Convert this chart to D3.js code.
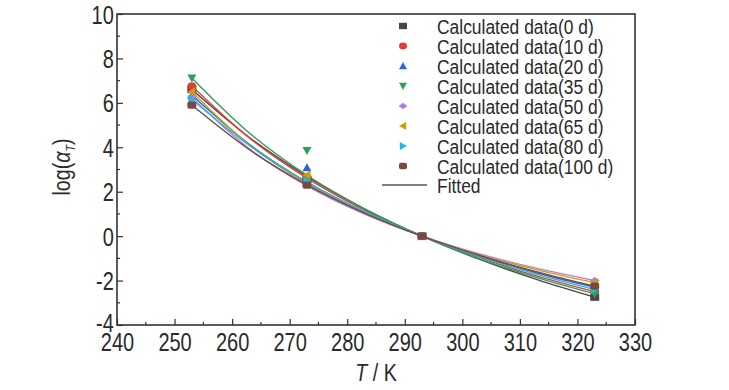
<!DOCTYPE html>
<html>
<head>
<meta charset="utf-8">
<script src="https://cdn.jsdelivr.net/npm/d3@7"></script>
<style>
  body { margin: 0; background: #fff; }
  svg { display: block; }
  text { font-family: "Liberation Sans", Arial, sans-serif; fill: #2a2a2a; }
</style>
</head>
<body>
<div id="chart"></div>
<script>
// Temperatures of the calculated points (K).
const temps = [253, 273, 293, 323];
// Temperatures where the fitted curves were read.
const fitTemps = [253, 263, 273, 283, 293, 303, 313, 323];

const seriesNames = ["0 d", "10 d", "20 d", "35 d", "50 d", "65 d", "80 d", "100 d"];
const seriesColors = ["#474747", "#e63a3a", "#2f63d8", "#2e9e5b", "#b07be6", "#cf9f00", "#22b9d6", "#7a4742"];
const seriesSymbols = ["square", "circle", "up", "down", "diamond", "left", "right", "hex"];

// Calculated log(aT) at each temperature.
const calc0 = [6.60, 2.55, 0, -2.75];
const calc10 = [6.76, 2.65, 0, -2.50];
const calc20 = [6.35, 3.08, 0, -2.30];
const calc35 = [7.12, 3.85, 0, -2.60];
const calc50 = [6.25, 2.40, 0, -2.00];
const calc65 = [6.50, 2.75, 0, -2.10];
const calc80 = [6.15, 2.50, 0, -2.40];
const calc100 = [5.90, 2.30, 0, -2.25];

// Fitted curves, read at fitTemps.
const fit0 = [6.60, 4.44, 2.69, 1.23, 0, -1.05, -1.96, -2.75];
const fit10 = [6.76, 4.42, 2.61, 1.17, 0, -0.97, -1.80, -2.50];
const fit20 = [6.35, 4.13, 2.43, 1.09, 0, -0.90, -1.66, -2.30];
const fit35 = [7.12, 4.64, 2.74, 1.23, 0, -1.02, -1.87, -2.60];
const fit50 = [6.25, 3.93, 2.26, 0.99, 0, -0.80, -1.45, -2.00];
const fit65 = [6.50, 4.10, 2.36, 1.04, 0, -0.84, -1.52, -2.10];
const fit80 = [6.15, 4.08, 2.43, 1.10, 0, -0.93, -1.72, -2.40];
const fit100 = [5.90, 3.89, 2.31, 1.04, 0, -0.87, -1.61, -2.25];

const calcAll = [calc0, calc10, calc20, calc35, calc50, calc65, calc80, calc100];
const fitAll = [fit0, fit10, fit20, fit35, fit50, fit65, fit80, fit100];

const xTicks = [240, 250, 260, 270, 280, 290, 300, 310, 320, 330];
const yTicks = [-4, -2, 0, 2, 4, 6, 8, 10];

const W = 729, H = 390;
const plotL = 117, plotR = 635, plotT = 14, plotB = 325;
// narrow-font look: squeeze glyphs horizontally
const narrow = 0.8;

const svg = d3.select("#chart").append("svg")
  .attr("width", W).attr("height", H);

const x = d3.scaleLinear().domain([240, 330]).range([plotL, plotR]);
const y = d3.scaleLinear().domain([-4, 10]).range([plotB, plotT]);

const axisColor = "#333";

// Minor ticks (inward)
const minorX = d3.range(245, 330, 10);
const minorY = d3.range(-3, 10, 2);
svg.append("g").selectAll("line").data(minorX).enter().append("line")
  .attr("x1", d => x(d)).attr("x2", d => x(d))
  .attr("y1", plotB).attr("y2", plotB - 3)
  .attr("stroke", axisColor).attr("stroke-width", 1.2);
svg.append("g").selectAll("line").data(minorY).enter().append("line")
  .attr("x1", plotL).attr("x2", plotL + 3)
  .attr("y1", d => y(d)).attr("y2", d => y(d))
  .attr("stroke", axisColor).attr("stroke-width", 1.2);

// Major axes (plain hyphen for negatives, like the original)
const fmt = d => String(d);
const xAxis = svg.append("g")
  .attr("transform", "translate(0," + plotB + ")")
  .call(d3.axisBottom(x).tickValues(xTicks).tickFormat(fmt).tickSizeInner(-6).tickSizeOuter(0).tickPadding(8));
const yAxis = svg.append("g")
  .attr("transform", "translate(" + plotL + ",0)")
  .call(d3.axisLeft(y).tickValues(yTicks).tickFormat(fmt).tickSizeInner(-6).tickSizeOuter(0).tickPadding(4));

[xAxis, yAxis].forEach(a => {
  a.select(".domain").remove();
  a.selectAll(".tick line").attr("stroke", axisColor).attr("stroke-width", 1.2);
  a.selectAll(".tick text")
    .style("font-size", "25px")
    .style("font-family", "\"Liberation Sans\", Arial, sans-serif")
    .attr("fill", "#2a2a2a")
    .attr("transform", "scale(" + narrow + ",1)");
});
yAxis.selectAll(".tick text").attr("dy", "0.36em");
// the -4 label sits a little above its tick in the original
yAxis.selectAll(".tick").filter(d => d === -4).select("text").attr("dy", "0.26em");

// Frame
svg.append("rect")
  .attr("x", plotL).attr("y", plotT)
  .attr("width", plotR - plotL).attr("height", plotB - plotT)
  .attr("fill", "none").attr("stroke", axisColor).attr("stroke-width", 1.6);

// Fitted curves
const line = d3.line()
  .x(d => x(d[0])).y(d => y(d[1]))
  .curve(d3.curveMonotoneX);

fitAll.forEach((vals, i) => {
  svg.append("path")
    .datum(fitTemps.map((t, j) => [t, vals[j]]))
    .attr("d", line)
    .attr("fill", "none")
    .attr("stroke", seriesColors[i])
    .attr("stroke-width", 1.4);
});

// Marker shapes
function marker(g, type, cx, cy, color, s) {
  const r = s / 2;
  let el;
  if (type === "square") {
    el = g.append("rect").attr("x", cx - r).attr("y", cy - r * 0.8).attr("width", s).attr("height", s * 0.8);
  } else if (type === "circle") {
    el = g.append("ellipse").attr("cx", cx).attr("cy", cy).attr("rx", r).attr("ry", r * 0.85);
  } else if (type === "hex") {
    el = g.append("rect").attr("x", cx - r).attr("y", cy - r * 0.8).attr("width", s).attr("height", s * 0.8)
      .attr("rx", r * 0.5);
  } else {
    let pts;
    if (type === "up") pts = [[cx, cy - r], [cx + r, cy + r * 0.8], [cx - r, cy + r * 0.8]];
    if (type === "down") pts = [[cx, cy + r], [cx + r, cy - r * 0.8], [cx - r, cy - r * 0.8]];
    if (type === "left") pts = [[cx - r, cy], [cx + r * 0.8, cy - r], [cx + r * 0.8, cy + r]];
    if (type === "right") pts = [[cx + r, cy], [cx - r * 0.8, cy - r], [cx - r * 0.8, cy + r]];
    if (type === "diamond") pts = [[cx, cy - r * 0.8], [cx + r * 1.1, cy], [cx, cy + r * 0.8], [cx - r * 1.1, cy]];
    el = g.append("polygon").attr("points", pts.map(p => p.join(",")).join(" "));
  }
  el.attr("fill", color);
}

const markG = svg.append("g");
calcAll.forEach((vals, i) => {
  temps.forEach((t, j) => {
    marker(markG, seriesSymbols[i], x(t), y(vals[j]), seriesColors[i], 9);
  });
});

// Legend
const legend = svg.append("g");
seriesNames.forEach((name, i) => {
  const ly = 26 + i * 20;
  marker(legend, seriesSymbols[i], 403, ly, seriesColors[i], 8);
  legend.append("text")
    .attr("transform", "translate(437," + ly + ") scale(0.83,1)")
    .attr("dy", "0.36em")
    .style("font-size", "21px")
    .text("Calculated data(" + name + ")");
});
legend.append("line")
  .attr("x1", 382).attr("x2", 427)
  .attr("y1", 185).attr("y2", 185)
  .attr("stroke", "#555").attr("stroke-width", 1.5);
legend.append("text")
  .attr("transform", "translate(437,185) scale(0.83,1)")
  .attr("dy", "0.36em")
  .style("font-size", "21px")
  .text("Fitted");

// Axis titles
const xTitle = svg.append("text")
  .attr("transform", "translate(" + ((plotL + plotR) / 2) + ",381) scale(0.82,1)")
  .attr("text-anchor", "middle")
  .style("font-size", "24px");
xTitle.append("tspan").attr("font-style", "italic").text("T");
xTitle.append("tspan").text(" / K");

const yTitle = svg.append("text")
  .attr("transform", "translate(70,167) rotate(-90) scale(0.82,1)")
  .attr("text-anchor", "middle")
  .style("font-size", "24px");
yTitle.append("tspan").text("log(");
yTitle.append("tspan").attr("font-style", "italic").text("α");
yTitle.append("tspan").attr("font-style", "italic").attr("font-size", "13px").attr("dy", "5").text("T");
yTitle.append("tspan").attr("dy", "-5").text(")");
</script>
</body>
</html>
